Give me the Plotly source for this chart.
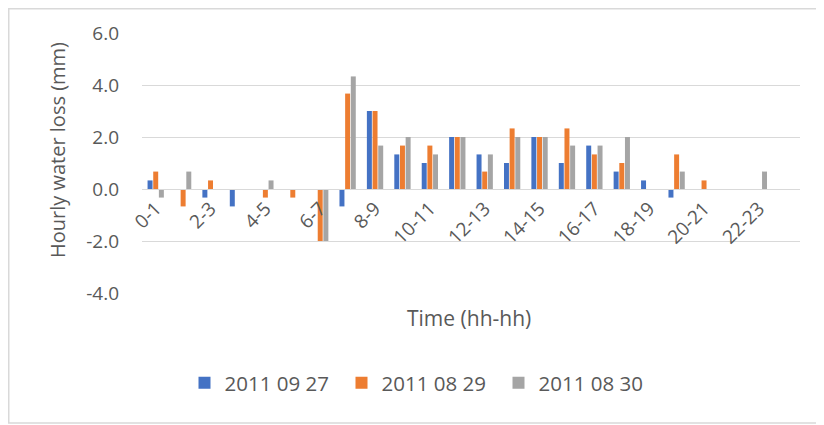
import plotly.graph_objects as go

# 数据
hours = [f"{h}-{h + 1}" for h in range(24)]
loss_0927 = [0.33, 0, -0.33, -0.67, 0, 0, 0, -0.67, 3.0, 1.33, 1.0, 2.0,
             1.33, 1.0, 2.0, 1.0, 1.67, 0.67, 0.33, -0.33, 0, 0, 0, 0]
loss_0829 = [0.67, -0.67, 0.33, 0, -0.33, -0.33, -2.0, 3.67, 3.0, 1.67, 1.67, 2.0,
             0.67, 2.33, 2.0, 2.33, 1.33, 1.0, 0, 1.33, 0.33, 0, 0, 0]
loss_0830 = [-0.33, 0.67, 0, 0, 0.33, 0, -2.0, 4.33, 1.67, 2.0, 1.33, 2.0,
             1.33, 2.0, 2.0, 1.67, 1.67, 2.0, 0, 0.67, 0, 0, 0.67, 0]
tick_labels = hours[::2]
y_ticks = [-4, -2, 0, 2, 4, 6]
y_tick_text = ["-4.0", "-2.0", "0.0", "2.0", "4.0", "6.0"]

series = [
    ("2011 09 27", loss_0927, "#4472C4"),
    ("2011 08 29", loss_0829, "#ED7D31"),
    ("2011 08 30", loss_0830, "#A5A5A5"),
]

# 页面 body 默认有 8px 边距，这里整体补偿
OFF = 8
W, H = 824 - OFF, 425 - OFF
L, T = 142 - OFF, 33 - OFF
R = W - (800 - OFF)
B = H - (293 - OFF)
pw, ph = W - L - R, H - T - B


def px_x(x):
    return (x - OFF - L) / pw


def px_y(y):
    return (ph - (y - OFF - T)) / ph


fig = go.Figure()
for name, vals, col in series:
    fig.add_trace(go.Bar(x=hours, y=vals, name=name, marker_color=col,
                         marker_line_width=0))

font_main = "Open Sans, sans-serif"
grey = "#595959"

fig.update_layout(
    width=W, height=H,
    barmode="group", bargap=0.38, bargroupgap=0.12,
    plot_bgcolor="white", paper_bgcolor="white",
    margin=dict(l=L, r=R, t=T, b=B, autoexpand=False),
    font=dict(family=font_main, color=grey),
    legend=dict(orientation="h", x=px_x(420), xanchor="center",
                y=px_y(383), yanchor="middle", entrywidth=112,
                font=dict(size=20.5, color=grey)),
    showlegend=True,
)

# x 轴位于 y=0 处
fig.update_xaxes(
    type="category", anchor="free", position=0.4, automargin=False,
    showgrid=False, showline=True, linecolor="#D9D9D9", linewidth=1,
    tickmode="array", tickvals=tick_labels, ticktext=tick_labels,
    tickangle=-45, tickfont=dict(size=19, color=grey), ticks="",
)
fig.update_yaxes(
    range=[-4, 6], tickmode="array", tickvals=y_ticks, ticktext=y_tick_text,
    automargin=False,
    showgrid=True, gridcolor="#D9D9D9", gridwidth=1,
    zeroline=True, zerolinecolor="#D9D9D9", zerolinewidth=1,
    showline=False, ticks="", ticklabelstandoff=22,
    tickfont=dict(size=19, color=grey),
)

# 轴标题
fig.add_annotation(text="Hourly water loss (mm)", xref="paper", yref="paper",
                   x=px_x(57), y=px_y(150), textangle=-90,
                   showarrow=False, font=dict(size=20, color=grey),
                   xanchor="center", yanchor="middle")
fig.add_annotation(text="Time (hh-hh)", xref="paper", yref="paper",
                   x=px_x(469), y=px_y(318),
                   showarrow=False, font=dict(size=21, color=grey),
                   xanchor="center", yanchor="middle")

# 图表边框
fig.add_shape(type="rect", xref="paper", yref="paper",
              x0=(0.75 - L) / pw, x1=(W + 10 - L) / pw,
              y0=px_y(423), y1=(ph + T - 0.75) / ph,
              line=dict(color="#D9D9D9", width=1.5), layer="below")

fig.write_html("out.html")
